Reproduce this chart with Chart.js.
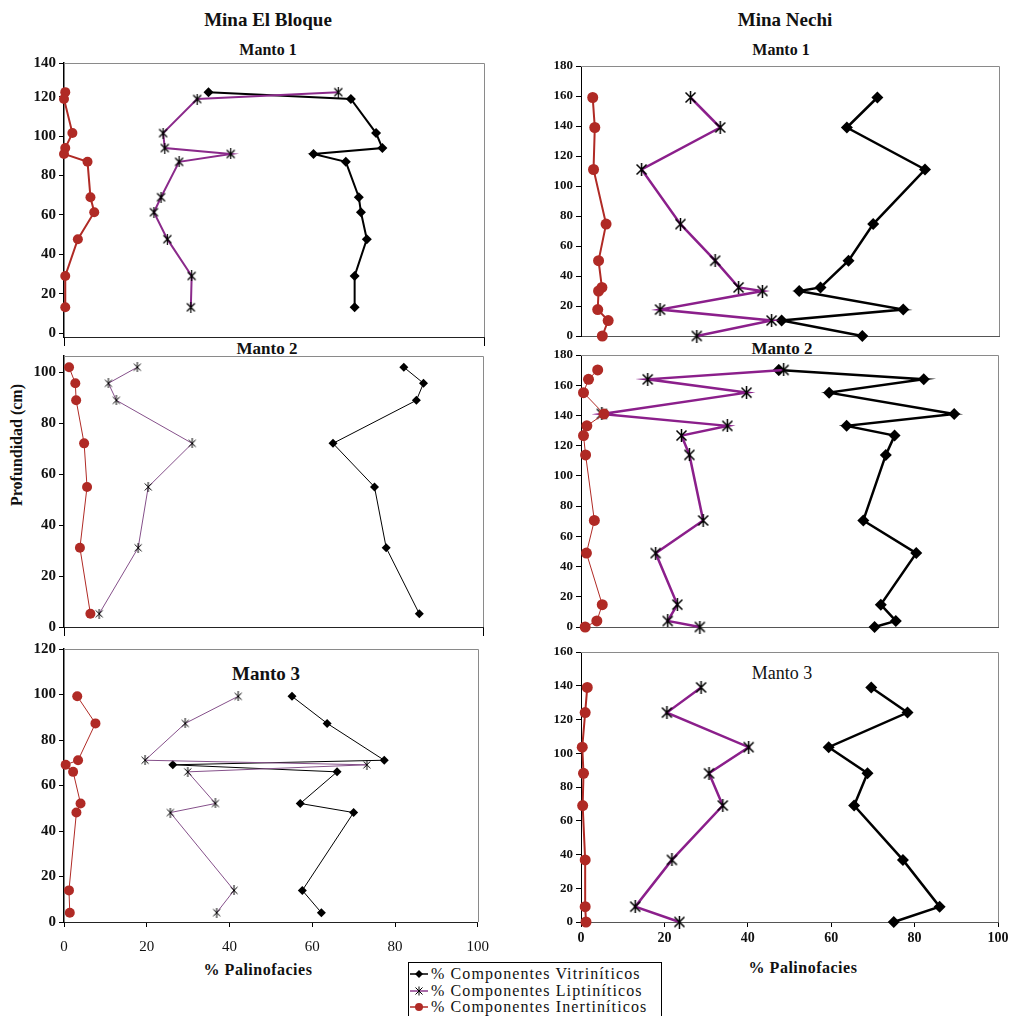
<!DOCTYPE html>
<html><head><meta charset="utf-8">
<script src="https://cdn.jsdelivr.net/npm/chart.js@4.4.0/dist/chart.umd.min.js"></script>
<style>
body{margin:0;width:1010px;height:1016px;background:#fff;position:relative;overflow:hidden;font-family:"Liberation Serif","Times New Roman",serif;color:#111;}
canvas{position:absolute;}
.t{position:absolute;white-space:nowrap;transform:translate(-50%,-50%);font-weight:bold;}
#legend{position:absolute;left:408px;top:962px;width:254px;height:60px;border:1px solid #000;box-sizing:border-box;background:#fff;}
.lr{position:absolute;left:0;height:16px;display:flex;align-items:center;font-size:16px;letter-spacing:1.1px;white-space:nowrap;}
.lr svg{margin-right:2px;}
</style></head><body>

<div class="t" style="left:268px;top:20px;font-size:19px;">Mina El Bloque</div>
<div class="t" style="left:785px;top:20px;font-size:19px;">Mina Nechi</div>
<div class="t" style="left:268px;top:50px;font-size:16px;">Manto 1</div>
<div class="t" style="left:781px;top:50px;font-size:16px;">Manto 1</div>
<div class="t" style="left:267px;top:349px;font-size:17px;">Manto 2</div>
<div class="t" style="left:782px;top:349px;font-size:17px;">Manto 2</div>
<div class="t" style="left:266px;top:674px;font-size:19px;">Manto 3</div>
<div class="t" style="left:782px;top:673px;font-size:18px;font-weight:normal;">Manto 3</div>
<div class="t" style="left:17px;top:445px;font-size:16px;transform:translate(-50%,-50%) rotate(-90deg);">Profundidad (cm)</div>
<div class="t" style="left:258px;top:970px;font-size:16px;letter-spacing:0.5px;">% Palinofacies</div>
<div class="t" style="left:803px;top:968px;font-size:16px;letter-spacing:0.5px;">% Palinofacies</div>

<div id="legend">
 <div class="lr" style="top:3px;"><svg width="20" height="12"><line x1="1" y1="6" x2="19" y2="6" stroke="#000" stroke-width="1.5"/><polygon points="10,2 14,6 10,10 6,6" fill="#000"/></svg><span>% Componentes Vitriníticos</span></div>
 <div class="lr" style="top:20px;"><svg width="20" height="12"><line x1="1" y1="6" x2="19" y2="6" stroke="#8b3a8b" stroke-width="1.5"/><path d="M6.5 2.5 L13.5 9.5 M13.5 2.5 L6.5 9.5 M10 1.5 L10 10.5" stroke="#000" stroke-width="1"/></svg><span>% Componentes Liptiníticos</span></div>
 <div class="lr" style="top:36px;"><svg width="20" height="12"><line x1="1" y1="6" x2="19" y2="6" stroke="#b02a25" stroke-width="1.5"/><circle cx="10" cy="6" r="4" fill="#b02a25"/></svg><span>% Componentes Inertiníticos</span></div>
</div>

<script>
// ---------- DATA ----------
const seriesNames = ['% Componentes Vitriníticos', '% Componentes Liptiníticos', '% Componentes Inertiníticos'];

// Mina El Bloque - Manto 1
const bloqueM1Depth = [122.4, 118.9, 101.6, 94.0, 91.0, 87.0, 69.0, 61.4, 47.7, 29.0, 13.1];
const bloqueM1Vit   = [34.4, 68.3, 74.3, 75.8, 59.4, 67.1, 70.2, 70.7, 72.1, 69.2, 69.2];
const bloqueM1Lip   = [65.3, 31.7, 23.6, 24.0, 39.7, 27.4, 23.1, 21.4, 24.6, 30.4, 30.2];
const bloqueM1Ine   = [0.3, 0.0, 2.0, 0.3, 0.0, 5.6, 6.3, 7.2, 3.3, 0.3, 0.3];

// Mina El Bloque - Manto 2
const bloqueM2Depth = [102.0, 95.7, 89.0, 72.1, 55.0, 31.1, 5.2];
const bloqueM2Vit   = [81.1, 85.8, 84.1, 64.2, 74.1, 76.9, 84.8];
const bloqueM2Lip   = [17.5, 10.6, 12.5, 30.6, 20.1, 17.7, 8.4];
const bloqueM2Ine   = [1.2, 2.7, 2.9, 4.8, 5.5, 3.8, 6.3];

// Mina El Bloque - Manto 3
const bloqueM3Depth = [99.2, 87.3, 71.1, 69.1, 66.0, 52.1, 48.1, 13.9, 4.1];
const bloqueM3Vit   = [55.1, 63.6, 77.4, 26.3, 66.0, 57.1, 70.0, 57.6, 62.2];
const bloqueM3Lip   = [42.1, 29.3, 19.6, 73.2, 29.9, 36.6, 25.7, 41.1, 36.9];
const bloqueM3Ine   = [3.2, 7.6, 3.4, 0.4, 2.2, 4.0, 3.0, 1.2, 1.4];

// Mina Nechi - Manto 1
const nechiM1Depth = [159.0, 139.0, 111.0, 74.6, 50.2, 32.4, 30.0, 17.6, 10.3, 0];
const nechiM1Vit   = [70.9, 63.6, 82.3, 69.9, 64.0, 57.3, 52.2, 77.1, 48.0, 67.3];
const nechiM1Lip   = [26.2, 33.3, 14.5, 23.8, 32.1, 37.7, 43.4, 18.9, 45.6, 27.7];
const nechiM1Ine   = [2.8, 3.3, 3.0, 6.0, 4.2, 5.0, 4.2, 4.0, 6.5, 5.1];

// Mina Nechi - Manto 2
const nechiM2Depth = [170.1, 163.9, 155.1, 141.0, 133.1, 126.7, 113.9, 70.5, 48.9, 14.8, 4.0, 0];
const nechiM2Vit   = [47.4, 82.2, 59.5, 89.5, 63.7, 75.2, 73.1, 67.7, 80.4, 71.9, 75.5, 70.4];
const nechiM2Lip   = [48.6, 16.0, 39.7, 5.0, 35.1, 24.1, 26.0, 29.3, 17.9, 23.1, 20.8, 28.5];
const nechiM2Ine   = [4.0, 1.8, 0.6, 5.5, 1.4, 0.6, 1.1, 3.2, 1.3, 5.1, 3.8, 1.0];

// Mina Nechi - Manto 3
const nechiM3Depth = [139.0, 124.1, 103.6, 88.1, 69.0, 36.8, 9.1, 0];
const nechiM3Vit   = [69.6, 78.3, 59.4, 68.7, 65.5, 77.2, 86.0, 75.0];
const nechiM3Lip   = [28.8, 20.6, 40.2, 30.7, 34.0, 21.8, 13.0, 23.6];
const nechiM3Ine   = [1.5, 1.0, 0.3, 0.6, 0.4, 1.0, 1.0, 1.2];

// tick labels
const xTickValues = [0, 20, 40, 60, 80, 100];
const xTickLabels = ['0', '20', '40', '60', '80', '100'];
const yTicksBloqueM1 = [0, 20, 40, 60, 80, 100, 120, 137.2];
const yLabelsBloqueM1 = ['0', '20', '40', '60', '80', '100', '120', '140'];
const yTicksBloqueM2 = [0, 20, 40, 60, 80, 100];
const yTicksBloqueM3 = [0, 20, 40, 60, 80, 100, 120];
const yTicksNechi180 = [0, 20, 40, 60, 80, 100, 120, 140, 160, 180];
const yTicksNechi160 = [0, 20, 40, 60, 80, 100, 120, 140, 160];

// ---------- DRAWING ----------
const ML = 60, MT = 14, MR = 18, MB = 40;
const INE = '#b02a25';

function makeStar(size, lw) {
  const c = document.createElement('canvas');
  c.width = size; c.height = size;
  const g = c.getContext('2d');
  g.strokeStyle = '#000'; g.lineWidth = lw;
  const m = size / 2, p = 1.5;
  g.beginPath();
  g.moveTo(p, p); g.lineTo(size - p, size - p);
  g.moveTo(size - p, p); g.lineTo(p, size - p);
  g.moveTo(m, 0); g.lineTo(m, size);
  g.stroke();
  return c;
}
const starSmall = makeStar(10, 1);
const starMid = makeStar(11, 1.2);
const starBig = makeStar(13, 1.5);

const framePlugin = {
  id: 'frame',
  beforeDatasetsDraw(chart) {
    const a = chart.chartArea, c = chart.ctx;
    c.save();
    c.strokeStyle = '#8a8a8a'; c.lineWidth = 1;
    c.beginPath();
    c.moveTo(a.left, Math.round(a.top) + 0.5);
    c.lineTo(Math.round(a.right) + 0.5, Math.round(a.top) + 0.5);
    c.lineTo(Math.round(a.right) + 0.5, a.bottom);
    c.stroke();
    c.restore();
  }
};

const styles = {
  thick: {lw: 2, lipColor: '#8b2a8b', vitR: 5, star: starMid, ineR: 5, ineLw: 2},
  thin:  {lw: 1, lipColor: '#85508a', vitR: 4.5, star: starSmall, ineR: 5, ineLw: 1},
  right: {lw: 2.5, lipColor: '#8b1f8b', vitR: 6, star: starBig, ineR: 5.5, ineLw: 2},
  rightThinIne: {lw: 2.5, lipColor: '#8b1f8b', vitR: 6, star: starBig, ineR: 5.5, ineLw: 1}
};

const panels = [
  {box: [64, 63, 484, 337], yMin: -2, yMax: 137.2, yTicks: yTicksBloqueM1, yLabels: yLabelsBloqueM1,
   depth: bloqueM1Depth, vit: bloqueM1Vit, lip: bloqueM1Lip, ine: bloqueM1Ine, st: 'thick',
   xTicks: [0, 100], xLabels: false, xTickLen: 9, yFont: 15, left: true},
  {box: [64, 356, 483, 627], yMin: 0, yMax: 106.4, yTicks: yTicksBloqueM2, yLabels: null,
   depth: bloqueM2Depth, vit: bloqueM2Vit, lip: bloqueM2Lip, ine: bloqueM2Ine, st: 'thin',
   xTicks: [0, 100], xLabels: false, xTickLen: 9, yFont: 15, left: true},
  {box: [64, 649, 482, 922], yMin: 0, yMax: 120, yTicks: yTicksBloqueM3, yLabels: null,
   depth: bloqueM3Depth, vit: bloqueM3Vit, lip: bloqueM3Lip, ine: bloqueM3Ine, st: 'thin',
   xTicks: xTickValues, xLabels: true, xTickLen: 5, yFont: 15, left: true},
  {box: [581, 66, 999, 336], yMin: 0, yMax: 180, yTicks: yTicksNechi180, yLabels: null,
   depth: nechiM1Depth, vit: nechiM1Vit, lip: nechiM1Lip, ine: nechiM1Ine, st: 'right',
   xTicks: xTickValues, xLabels: false, xTickLen: 0, yFont: 13, left: false},
  {box: [581, 355, 998, 627], yMin: 0, yMax: 180, yTicks: yTicksNechi180, yLabels: null,
   depth: nechiM2Depth, vit: nechiM2Vit, lip: nechiM2Lip, ine: nechiM2Ine, st: 'rightThinIne',
   xTicks: xTickValues, xLabels: false, xTickLen: 0, yFont: 13, left: false},
  {box: [581, 652, 998, 922], yMin: 0, yMax: 160, yTicks: yTicksNechi160, yLabels: null,
   depth: nechiM3Depth, vit: nechiM3Vit, lip: nechiM3Lip, ine: nechiM3Ine, st: 'right',
   xTicks: xTickValues, xLabels: true, xTickLen: 5, yFont: 13, left: false}
];

panels.forEach(p => {
  const [l, t, r, b] = p.box;
  const cv = document.createElement('canvas');
  const W = (r - l) + ML + MR, H = (b - t) + MT + MB;
  cv.width = W; cv.height = H;
  cv.style.left = (l - ML) + 'px';
  cv.style.top = (t - MT) + 'px';
  cv.style.width = W + 'px'; cv.style.height = H + 'px';
  document.body.appendChild(cv);
  const s = styles[p.st];
  const pts = arr => p.depth.map((d, i) => ({x: arr[i], y: d}));
  new Chart(cv.getContext('2d'), {
    type: 'scatter',
    data: {
      datasets: [
        {label: seriesNames[2], data: pts(p.ine), showLine: true, borderColor: INE, borderWidth: s.ineLw,
         pointStyle: 'circle', pointRadius: s.ineR, pointBackgroundColor: INE, pointBorderColor: INE, pointBorderWidth: 0, clip: false},
        {label: seriesNames[1], data: pts(p.lip), showLine: true, borderColor: s.lipColor, borderWidth: s.lw,
         pointStyle: s.star, clip: false},
        {label: seriesNames[0], data: pts(p.vit), showLine: true, borderColor: '#000', borderWidth: s.lw,
         pointStyle: 'rectRot', pointRadius: s.vitR, pointBackgroundColor: '#000', pointBorderColor: '#000', pointBorderWidth: 0, clip: false}
      ]
    },
    options: {
      responsive: false, animation: false, events: [],
      layout: {padding: {top: MT, right: MR, left: 0, bottom: 0}},
      plugins: {legend: {display: false}, tooltip: {enabled: false}, title: {display: false}},
      scales: {
        x: {
          type: 'linear', min: 0, max: 100,
          afterBuildTicks: ax => { ax.ticks = p.xTicks.map(v => ({value: v})); },
          afterFit: ax => { ax.height = MB; },
          ticks: {display: p.xLabels, autoSkip: false, maxRotation: 0, padding: p.left ? 11 : 3, color: '#111',
                  font: {family: '"Liberation Serif", serif', size: p.left ? 15 : 14, weight: p.left ? 'normal' : 'bold'},
                  callback: (v) => xTickLabels[xTickValues.indexOf(v)] ?? ''},
          grid: {drawOnChartArea: false, drawTicks: p.xTickLen > 0, tickLength: p.xTickLen, color: '#000'},
          border: {display: true, color: p.left ? '#222' : '#555', width: 1}
        },
        y: {
          type: 'linear', min: p.yMin, max: p.yMax,
          afterBuildTicks: ax => { ax.ticks = p.yTicks.map(v => ({value: v})); },
          afterFit: ax => { ax.width = ML; },
          ticks: {autoSkip: false, padding: 3, color: '#111',
                  font: {family: '"Liberation Serif", serif', size: p.yFont, weight: 'bold'},
                  callback: (v, i) => p.yLabels ? p.yLabels[i] : String(v)},
          grid: {drawOnChartArea: false, drawTicks: true, tickLength: 5, color: '#000'},
          border: {display: true, color: '#000', width: p.left ? 1.5 : 1}
        }
      }
    },
    plugins: [framePlugin]
  });
});
</script>
</body></html>
